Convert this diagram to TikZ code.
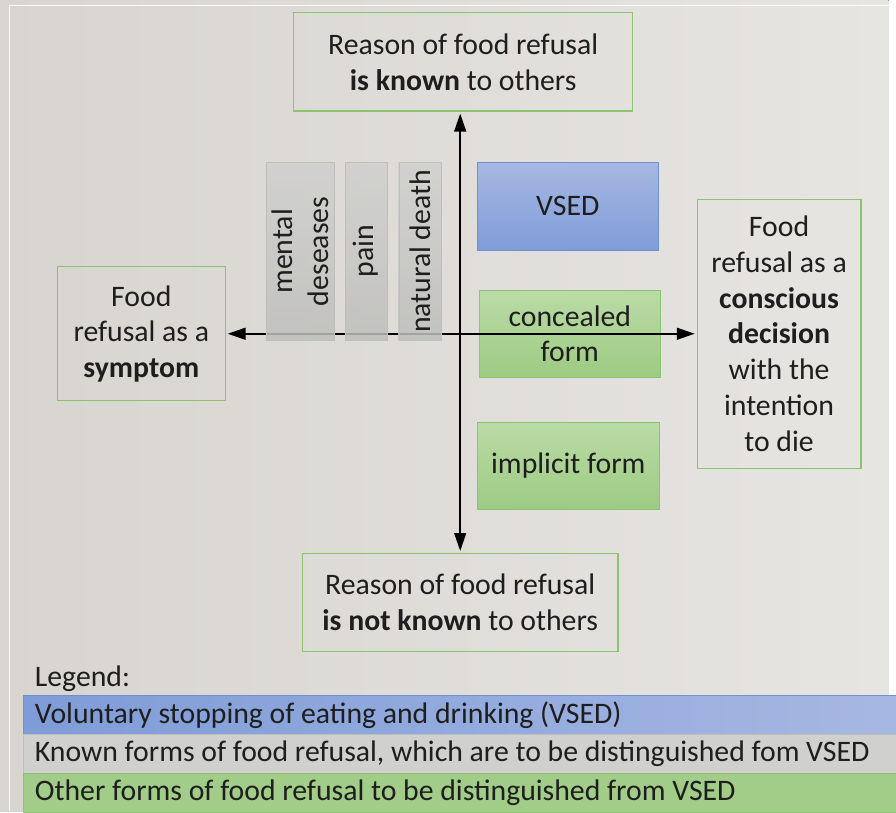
\documentclass[tikz,border=0pt]{standalone}
\usepackage{fontspec}
\setmainfont{Carlito}
\usetikzlibrary{arrows.meta, positioning}
\usepackage{xcolor}
\definecolor{fundoesq}{RGB}{216, 213, 208}
\definecolor{fundodir}{RGB}{231, 229, 226}
\definecolor{meuverde}{RGB}{141, 195, 111}
\definecolor{verdeclaro}{RGB}{186, 219, 166}
\definecolor{verdeescuro}{RGB}{157, 203, 131}
\definecolor{azulclaro}{RGB}{166, 184, 226}
\definecolor{azulescuro}{RGB}{127, 156, 216}
\definecolor{azulborda}{RGB}{112, 144, 208}
\definecolor{cinzaclaro}{RGB}{208, 208, 206}
\definecolor{cinzaescuro}{RGB}{190, 190, 188}
\definecolor{texto}{RGB}{30, 30, 30}

\begin{document}
\begin{tikzpicture}[
            x=1pt, y=-1pt,
            every node/.style={font=\fontsize{30}{36}\selectfont, text=texto, inner sep=0pt},
            frame/.style={draw=meuverde, line width=1.2pt, align=center},
            vsed/.style={draw=azulborda, top color=azulclaro, bottom color=azulescuro, align=center},
            other/.style={draw=meuverde, top color=verdeclaro, bottom color=verdeescuro, align=center},
            known/.style={draw=cinzaescuro, top color=cinzaclaro, bottom color=cinzaescuro, fill opacity=0.85, text opacity=1, rotate=90, align=center, minimum width=179pt},
            legbar/.style={minimum width=880pt, minimum height=39pt, text width=856pt, inner xsep=12pt, align=flush left, anchor=north west},
            axis/.style={line width=1.6pt, {Triangle[length=18pt,width=12pt]}-{Triangle[length=18pt,width=12pt]}, shorten <=2pt, shorten >=2pt}
        ]
            % Background
            \fill[left color=fundoesq, right color=fundodir] (0,0) rectangle (896,818);
            \draw[white!80!fundodir, line width=1pt] (896,6) -- (10,6) -- (10,818);

            % Nodes
            \node[frame, minimum width=342pt, minimum height=99pt] (isknown) at (467,62.5) {Reason of food refusal\\\textbf{is known} to others};
            \node[frame, minimum width=318pt, minimum height=99pt] (notknown) at (464,607.5) {Reason of food refusal\\\textbf{is not known} to others};
            \node[frame, minimum width=169pt, minimum height=135pt] (symptom) at (142.5,336.5) {Food\\refusal as a\\\textbf{symptom}};
            \node[frame, minimum width=165pt, minimum height=271pt] (decision) at (785.5,336.5) {Food\\refusal as a\\\textbf{conscious}\\\textbf{decision}\\with the\\intention\\to die};

            \node[vsed, minimum width=183pt, minimum height=88pt] (vsedbox) at (572.5,208) {VSED};
            \node[other, minimum width=183pt, minimum height=87pt] (concealed) at (574.5,336.5) {concealed\\form};
            \node[other, minimum width=184pt, minimum height=87pt] (implicit) at (573,469.5) {implicit form};

            % Arrows
            \draw[axis] (isknown.south -| notknown.north) -- (notknown.north);
            \draw[axis] (symptom) -- (decision);

            \node[known, minimum height=69pt] (mental) at (302.5,253.5) {mental\\deseases};
            \node[known, minimum height=42pt] (pain) at (369,253.5) {pain};
            \node[known, minimum height=43pt] (natural) at (423.5,253.5) {natural death};

            % Legend
            \node[anchor=west] (legtitle) at (35,684) {Legend:};
            \node[legbar, draw=azulborda, left color=azulescuro, right color=azulclaro] (leg1) at (23,701) {Voluntary stopping of eating and drinking (VSED)};
            \node[legbar, draw=cinzaescuro, fill=cinzaclaro, below=0pt of leg1] (leg2) {Known forms of food refusal, which are to be distinguished fom VSED};
            \node[legbar, draw=meuverde, fill=verdeescuro!85!verdeclaro, below=0pt of leg2] (leg3) {Other forms of food refusal to be distinguished from VSED};
        \end{tikzpicture}
\end{document}
